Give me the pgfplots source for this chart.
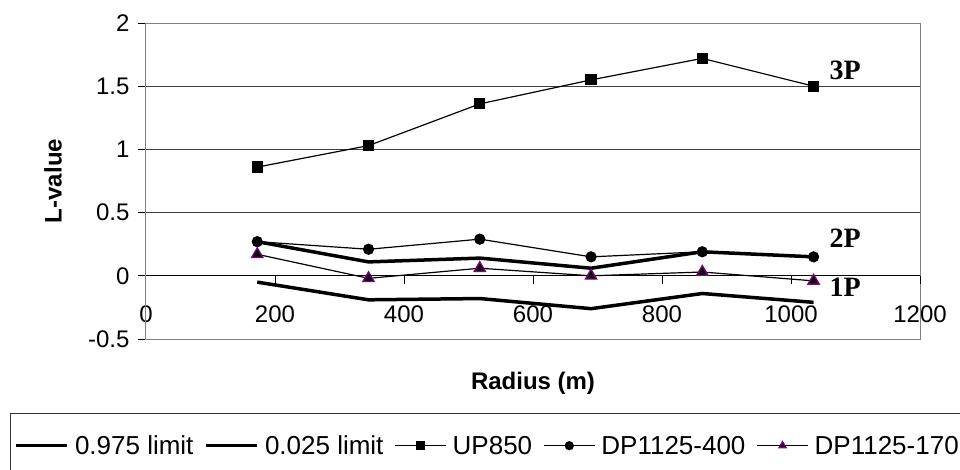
\documentclass[border=0pt]{standalone}
\usepackage{fontspec}
\setmainfont{Liberation Sans}
\newfontfamily\serifb{Liberation Serif}
\usepackage{pgfplots}
\pgfplotsset{compat=1.18}
\definecolor{tripurple}{RGB}{128,0,128}
\begin{document}
\begin{tikzpicture}[x=1pt,y=1pt]
\path[use as bounding box] (0,0) rectangle (960,-470);
\begin{axis}[
  at={(146pt,-339pt)}, anchor=south west,
  scale only axis, width=774pt, height=316pt,
  xmin=0, xmax=1200, ymin=-0.5, ymax=2,
  axis x line=middle, axis y line=left,
  hide obscured x ticks=false, hide obscured y ticks=false,
  axis line style={-, black, line width=1pt},
  xtick={0,200,...,1200}, ytick={-0.5,0,0.5,1,1.5,2},
  yticklabels={-0.5,0,0.5,1,1.5,2},
  xticklabels={0,200,400,600,800,1000,1200},
  tick align=outside, major tick length=8pt,
  tick style={black, line width=1pt},
  xtick style={draw=none},
  ymajorgrids, grid style={black!75, line width=0.8pt},
  /pgf/number format/assume math mode=true,
  tick label style={font=\fontsize{24}{24}\selectfont},
  xticklabel style={yshift=-18pt},
  yticklabel style={xshift=-5pt},
  xlabel={\textbf{Radius (m)}},
  ylabel={\textbf{L-value}},
  label style={font=\fontsize{24}{24}\selectfont},
  xlabel style={at={(axis description cs:0.5,-0.14)}, anchor=center},
  ylabel style={at={(axis description cs:-0.12,0.5)}, anchor=center, rotate=0},
  clip=false,
  legend columns=5,
  legend style={at={(axis description cs:-0.1757,-0.2342)}, anchor=north west,
    draw=black!80, line width=1pt, font=\fontsize{26}{26}\selectfont,
    inner xsep=4pt, inner ysep=20pt,
    /tikz/every odd column/.append style={column sep=4pt},
    /tikz/every even column/.append style={column sep=9pt}},
  legend image code/.code={
    \draw[#1, mark size=4pt, mark repeat=2, mark phase=2] plot coordinates {(0pt,0pt)(25.5pt,0pt)(51pt,0pt)};},
]
\draw[gray, line width=1pt] (rel axis cs:0,0) rectangle (rel axis cs:1,1);
\pgfplotsinvokeforeach{200,400,600,800,1000,1200}{
  \draw[black, line width=1pt] (axis cs:#1,0) -- ++(0pt,-8pt);}
\addplot[black, line width=3.5pt, no marks] coordinates {
 (172.5,0.27) (345,0.11) (517.5,0.14) (690,0.06) (862.5,0.19) (1035,0.15)};
\addlegendentry{0.975 limit}
\addplot[black, line width=3.5pt, no marks] coordinates {
 (172.5,-0.05) (345,-0.19) (517.5,-0.18) (690,-0.26) (862.5,-0.14) (1035,-0.21)};
\addlegendentry{0.025 limit}
\addplot[black, line width=1.2pt, mark=square*, mark size=5pt, mark options={solid}] coordinates {
 (172.5,0.86) (345,1.03) (517.5,1.36) (690,1.55) (862.5,1.72) (1035,1.50)};
\addlegendentry{UP850}
\addplot[black, line width=1.2pt, mark=*, mark size=5pt] coordinates {
 (172.5,0.27) (345,0.21) (517.5,0.29) (690,0.15) (862.5,0.19) (1035,0.15)};
\addlegendentry{DP1125-400}
\addplot[black, line width=1.2pt, mark=triangle*, mark size=6.5pt,
  mark options={fill=black, draw=tripurple, line width=1.3pt}] coordinates {
 (172.5,0.17) (345,-0.02) (517.5,0.06) (690,0.00) (862.5,0.03) (1035,-0.04)};
\addlegendentry{DP1125-170}
\node[font=\serifb\bfseries\fontsize{28}{28}\selectfont] at (axis cs:1084,1.627) {3P};
\node[font=\serifb\bfseries\fontsize{28}{28}\selectfont] at (axis cs:1084,0.30) {2P};
\node[font=\serifb\bfseries\fontsize{28}{28}\selectfont] at (axis cs:1084,-0.087) {1P};
\end{axis}
\end{tikzpicture}
\end{document}
